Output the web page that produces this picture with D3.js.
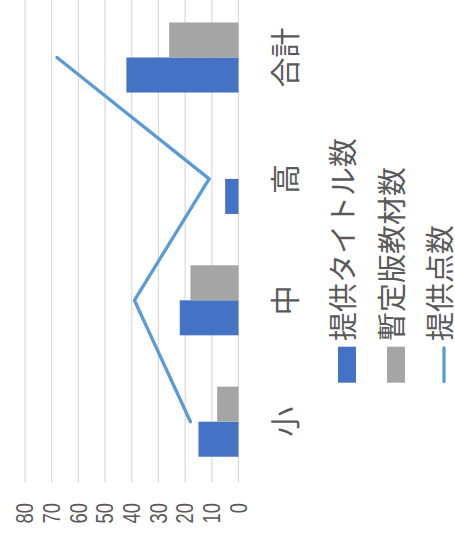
<!DOCTYPE html>
<meta charset="utf-8">
<style>
body { margin: 0; background: #fff; }
svg text { font-family: "Noto Sans CJK JP", "Noto Sans", sans-serif; fill: #595959; }
.grid line { stroke: #d9d9d9; stroke-width: 1.2; }
</style>
<body>
<div id="chart"></div>
<script src="https://d3js.org/d3.v7.min.js"></script>
<script>

// data
var categories  = ["小", "中", "高", "合計"];
var titles      = [15, 22, 5, 42];   // 提供タイトル数
var provisional = [8, 18, 0, 26];    // 暫定版教材数
var points      = [18, 39, 11, 68];  // 提供点数
var seriesNames = ["提供タイトル数", "暫定版教材数", "提供点数"];
var tickValues  = [0, 10, 20, 30, 40, 50, 60, 70, 80];

var W = 455, H = 538;

var svg = d3.select("#chart").append("svg")
    .attr("width", W)
    .attr("height", H);

// the chart is a normal column chart turned a quarter to the left
var g = svg.append("g")
    .attr("transform", "translate(0," + H + ") rotate(-90)");

var x0 = d3.scaleBand()
    .domain(categories)
    .range([55.6, 541.2])
    .paddingInner(0.423)
    .paddingOuter(0.2115);

var x1 = d3.scaleBand()
    .domain(["titles", "provisional"])
    .range([0, x0.bandwidth()]);

var y = d3.scaleLinear()
    .domain([0, 80])
    .range([238.5, 25]);

// gridlines
g.append("g").attr("class", "grid")
  .selectAll("line")
  .data(tickValues)
  .enter().append("line")
    .attr("x1", 55.6)
    .attr("x2", 541.2)
    .attr("y1", d => y(d))
    .attr("y2", d => y(d));

// value labels
g.append("g").selectAll("text")
  .data(tickValues)
  .enter().append("text")
    .attr("transform", d => "translate(35," + y(d) + ") scale(0.8,1)")
    .attr("text-anchor", "end")
    .attr("dominant-baseline", "central")
    .style("font-family", "'Liberation Sans', sans-serif")
    .style("font-size", "23px")
    .text(d => d);

var rows = categories.map((c, i) => ({cat: c, titles: titles[i], provisional: provisional[i]}));
var colors = {titles: "#4472c4", provisional: "#a5a5a5"};

g.append("g").selectAll("g")
  .data(rows)
  .enter().append("g")
    .attr("transform", d => "translate(" + x0(d.cat) + ",0)")
  .selectAll("rect")
  .data(d => ["titles", "provisional"].map(k => ({key: k, value: d[k]})))
  .enter().append("rect")
    .attr("x", d => x1(d.key))
    .attr("width", x1.bandwidth())
    .attr("y", d => y(d.value))
    .attr("height", d => y(0) - y(d.value))
    .attr("fill", d => colors[d.key]);

// line series
var line = d3.line()
    .x((d, i) => x0(categories[i]) + x0.bandwidth() / 2)
    .y(d => y(d));

g.append("path")
    .datum(points)
    .attr("d", line)
    .attr("fill", "none")
    .attr("stroke", "#5b9bd5")
    .attr("stroke-width", 3.3)
    .attr("stroke-linecap", "round")
    .attr("stroke-linejoin", "round");

// category labels
g.append("g").selectAll("text")
  .data(categories)
  .enter().append("text")
    .attr("x", d => x0(d) + x0.bandwidth() / 2)
    .attr("y", 283)
    .attr("text-anchor", "middle")
    .attr("dominant-baseline", "central")
    .style("font-size", "30px")
    .text(d => d);

// legend
var legendY = [347, 396, 444];
var legend = g.append("g").selectAll("g")
  .data(seriesNames)
  .enter().append("g")
    .attr("transform", (d, i) => "translate(0," + legendY[i] + ")");

legend.filter((d, i) => i < 2).append("rect")
    .attr("x", 155.3)
    .attr("y", -9)
    .attr("width", 36)
    .attr("height", 18)
    .attr("fill", (d, i) => i == 0 ? colors.titles : colors.provisional);

legend.filter((d, i) => i == 2).append("line")
    .attr("x1", 156.5).attr("x2", 190)
    .attr("y1", 0).attr("y2", 0)
    .attr("stroke", "#5b9bd5")
    .attr("stroke-width", 3.3)
    .attr("stroke-linecap", "round");

legend.append("text")
    .attr("x", 197)
    .attr("y", -6.5)
    .attr("dominant-baseline", "central")
    .style("font-size", "29px")
    .text(d => d);

</script>
